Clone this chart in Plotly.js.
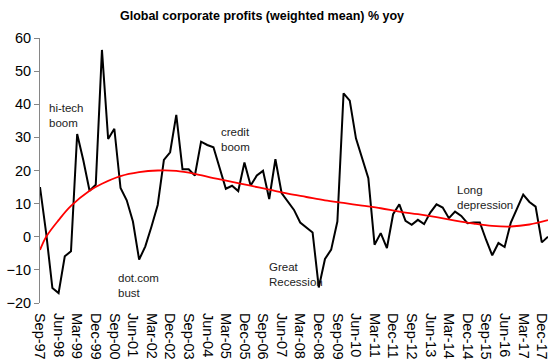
<!DOCTYPE html>
<html>
<head>
<meta charset="utf-8">
<script src="https://cdn.plot.ly/plotly-3.0.1.min.js"></script>
<style>html,body{margin:0;padding:0;background:#fff}#chart{width:559px;height:364px}</style>
</head>
<body>
<div id="chart"></div>
<script>
// Quarterly labels Sep-97 .. Mar-18
var quarters = ["Sep-97","Dec-97","Mar-98","Jun-98","Sep-98","Dec-98","Mar-99","Jun-99","Sep-99","Dec-99",
"Mar-00","Jun-00","Sep-00","Dec-00","Mar-01","Jun-01","Sep-01","Dec-01","Mar-02","Jun-02",
"Sep-02","Dec-02","Mar-03","Jun-03","Sep-03","Dec-03","Mar-04","Jun-04","Sep-04","Dec-04",
"Mar-05","Jun-05","Sep-05","Dec-05","Mar-06","Jun-06","Sep-06","Dec-06","Mar-07","Jun-07",
"Sep-07","Dec-07","Mar-08","Jun-08","Sep-08","Dec-08","Mar-09","Jun-09","Sep-09","Dec-09",
"Mar-10","Jun-10","Sep-10","Dec-10","Mar-11","Jun-11","Sep-11","Dec-11","Mar-12","Jun-12",
"Sep-12","Dec-12","Mar-13","Jun-13","Sep-13","Dec-13","Mar-14","Jun-14","Sep-14","Dec-14",
"Mar-15","Jun-15","Sep-15","Dec-15","Mar-16","Jun-16","Sep-16","Dec-16","Mar-17","Jun-17",
"Sep-17","Dec-17","Mar-18"];

// Global corporate profits (weighted mean) % yoy
var profits = [15,1,-15.5,-17,-5.9,-4.4,31,23,13.9,15.7,
56.4,29.5,32.6,14.7,11,4.6,-6.9,-2.9,3.1,9.6,
23.2,25.5,36.8,20.4,20.4,18.5,28.7,27.7,27,21,
14.5,15.4,13.8,22.4,15.5,18.5,19.9,11.4,23.4,13.2,
10.7,8.1,4.3,2.9,1.3,-15.3,-6.7,-3.9,4.6,43.3,
41.1,29.7,23.7,17.7,-2.4,1.1,-3.4,6.8,9.8,4.8,
3.6,5.1,3.8,7.3,9.8,8.8,5.6,7.6,6.3,4.1,
4.3,4.3,-0.9,-5.6,-1.9,-3.1,4.3,8.4,12.7,10.5,
9.1,-1.7,0];

// Trend curve (quarter index, value)
var trendIdx = [0,1,3,5,8,10,13,16,19,22,25,28,31,34,37,40,43,46,49,52,55,58,61,64,67,70,73,76,79,82];
var trendVal = [-4,0,5,9.3,13.9,16,18.3,19.5,20,19.9,19,17.7,16.6,15.4,14.2,13,12,11,10.2,9.4,8.6,7.6,6.8,5.9,4.9,4.0,3.3,3.1,3.7,5.0];

// Tick labels every 3 quarters
var tickIdx = [];
var tickText = [];
for (var k = 0; k < quarters.length - 1; k += 3) { tickIdx.push(k); tickText.push(quarters[k]); }

var idx = quarters.map(function(_, i){ return i; });

var notes = [
  {text: "hi-tech<br>boom", qi: 1.1, v: 36.6},
  {text: "credit<br>boom", qi: 28.9, v: 29.4},
  {text: "dot.com<br>bust", qi: 12.2, v: -14.8},
  {text: "Great<br>Recession", qi: 36.6, v: -11.3},
  {text: "Long<br>depression", qi: 67, v: 11.9}
];

var axisColor = "#868686";
var font = "Liberation Sans, Arial, sans-serif";

var traces = [
  {x: idx, y: profits, type: "scatter", mode: "lines", line: {color: "#000000", width: 2}, hoverinfo: "skip"},
  {x: trendIdx, y: trendVal, type: "scatter", mode: "lines", line: {color: "#ff0000", width: 1.8, shape: "spline", smoothing: 1}, hoverinfo: "skip"}
];

var layout = {
  width: 559, height: 364,
  margin: {l: 40, r: 10.6, t: 38, b: 60.6},
  paper_bgcolor: "#ffffff", plot_bgcolor: "#ffffff",
  showlegend: false,
  font: {family: font, color: "#000000"},
  title: {text: "<b>Global corporate profits (weighted mean) % yoy</b>", font: {family: font, size: 12.5, color: "#000"},
          x: 262/559, xanchor: "center", xref: "container", y: 1 - 16/364, yanchor: "middle", yref: "container"},
  xaxis: {range: [0, 82], tickmode: "array", tickvals: tickIdx, ticktext: tickText, tickangle: 90,
          showline: false, showgrid: false, zeroline: false, ticks: "outside", ticklen: 6, tickcolor: "rgba(0,0,0,0)",
          tickfont: {size: 14.5, family: font, color: "#000"}},
  xaxis2: {range: [0, 82], overlaying: "x", anchor: "free", position: 0.25, side: "bottom",
           tickmode: "array", tickvals: tickIdx, showticklabels: false, showline: true, linecolor: axisColor, linewidth: 1,
           ticks: "outside", ticklen: 5, tickcolor: axisColor, showgrid: false, zeroline: false},
  yaxis: {range: [-20, 60], dtick: 10, tick0: 0, showline: true, linecolor: axisColor, linewidth: 1,
          ticks: "outside", ticklen: 5, tickcolor: axisColor, showgrid: false, zeroline: false,
          tickfont: {size: 14.5, family: font, color: "#000"}, domain: [0, 1]},
  annotations: notes.map(function(n){
    return {x: n.qi, y: n.v, xref: "x", yref: "y", text: n.text, showarrow: false, align: "left",
            xanchor: "left", yanchor: "middle", font: {size: 11.5, family: font, color: "#222"}};
  })
};

Plotly.newPlot("chart", traces, layout, {staticPlot: true, displayModeBar: false});
</script>
</body>
</html>
